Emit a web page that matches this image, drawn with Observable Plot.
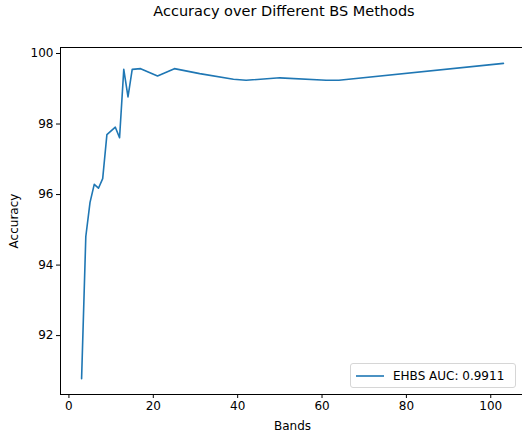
<!DOCTYPE html>
<html>
<head>
<meta charset="utf-8">
<script src="https://cdn.jsdelivr.net/npm/d3@7"></script>
<script src="https://cdn.jsdelivr.net/npm/@observablehq/plot@0.6"></script>
<style>
  html, body { margin: 0; padding: 0; background: #fff; overflow: hidden; }
  #wrap { position: relative; width: 522px; height: 436px; overflow: hidden; font-family: "DejaVu Sans", sans-serif; }
  #title { position: absolute; top: 3px; left: 0; width: 568px; text-align: center; font-size: 14.5px; color: #000; }
  #legend { position: absolute; left: 350px; top: 363px; width: 166px; height: 25px; border: 1px solid #d6d6d6; border-radius: 3px; background: rgba(255,255,255,0.8); box-sizing: border-box; display: flex; align-items: center; font-size: 12px; color: #000; }
  #legend svg { margin-left: 5px; margin-right: 9px; }
  #chart { position: absolute; left: 0; top: 0; width: 528px; }
  #chart svg { max-width: none !important; width: 528px !important; height: 436px !important; }
</style>
</head>
<body>
<div id="wrap">
  <div id="chart"></div>
  <div id="title">Accuracy over Different BS Methods</div>
  <div id="legend"><svg width="28" height="6"><line x1="0" y1="3" x2="28" y2="3" stroke="#1f77b4" stroke-width="1.6"/></svg><span>EHBS AUC: 0.9911</span></div>
</div>
<script>
const bands = [3, 4, 5, 6, 7, 8, 9, 11, 12, 13, 14, 15, 17, 21, 25, 31, 39, 42, 50, 61, 64, 103];
const accuracy = [90.78, 94.81, 95.78, 96.29, 96.18, 96.45, 97.70, 97.91, 97.61, 99.55, 98.77, 99.55, 99.57, 99.36, 99.57, 99.43, 99.27, 99.24, 99.31, 99.24, 99.24, 99.72];
const xTicks = [0, 20, 40, 60, 80, 100];
const yTicks = [92, 94, 96, 98, 100];
const seriesName = "EHBS AUC: 0.9911";

const data = bands.map((b, i) => ({bands: b, accuracy: accuracy[i]}));

const chart = Plot.plot({
  width: 528,
  height: 436,
  marginLeft: 60,
  marginRight: 4,
  marginTop: 47,
  marginBottom: 42,
  style: {fontFamily: "DejaVu Sans, sans-serif", fontSize: "12px", color: "#000", background: "white", overflow: "visible"},
  x: {domain: [-2, 108], ticks: xTicks, tickSize: 4, tickPadding: 3, label: "Bands", labelAnchor: "center", labelArrow: "none", labelOffset: 35},
  y: {domain: [90.33, 100.17], ticks: yTicks, tickSize: 4, tickPadding: 3, label: "Accuracy", labelAnchor: "center", labelArrow: "none", labelOffset: 51},
  marks: [
    Plot.frame({stroke: "#000", strokeWidth: 1}),
    Plot.line(data, {x: "bands", y: "accuracy", stroke: "#1f77b4", strokeWidth: 1.6})
  ]
});
document.getElementById("chart").appendChild(chart);
</script>
</body>
</html>
